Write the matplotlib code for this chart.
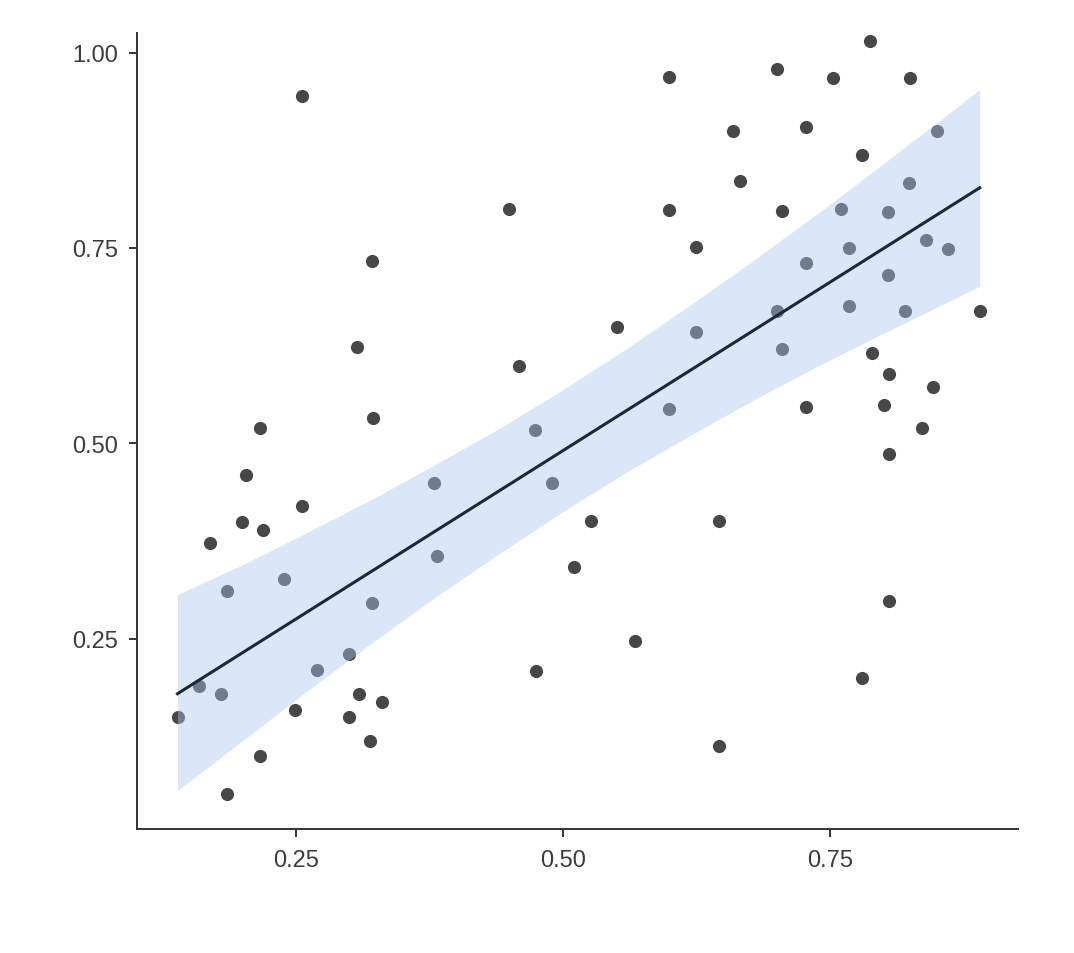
"""Scatter with linear fit and 95% confidence band (ggplot classic look)."""

import matplotlib
matplotlib.use("Agg")
import matplotlib.pyplot as plt

# values
x_vals = [
    0.139, 0.159, 0.169, 0.180, 0.185, 0.185, 0.199, 0.203, 0.216, 0.219,
    0.216, 0.239, 0.249, 0.256, 0.256, 0.270, 0.300, 0.300, 0.307, 0.309,
    0.319, 0.321, 0.321, 0.322, 0.330, 0.379, 0.382,
    0.449, 0.459, 0.474, 0.475, 0.490, 0.510, 0.526, 0.550, 0.567, 0.599,
    0.599, 0.599, 0.6245, 0.6245, 0.646, 0.646,
    0.659, 0.666, 0.700, 0.700, 0.705, 0.705, 0.727, 0.727, 0.727, 0.753,
    0.760, 0.768, 0.768, 0.780, 0.780, 0.787, 0.789, 0.800, 0.804, 0.804,
    0.805, 0.805, 0.805, 0.820, 0.824, 0.825, 0.836, 0.840, 0.846, 0.850,
    0.860, 0.890,
]
y_vals = [
    0.150, 0.190, 0.373, 0.180, 0.311, 0.052, 0.400, 0.460, 0.520, 0.389,
    0.100, 0.327, 0.159, 0.944, 0.420, 0.210, 0.231, 0.150, 0.623, 0.180,
    0.120, 0.733, 0.296, 0.533, 0.170, 0.450, 0.356,
    0.800, 0.599, 0.517, 0.209, 0.450, 0.342, 0.401, 0.649, 0.248, 0.969,
    0.799, 0.544, 0.751, 0.643, 0.401, 0.113,
    0.900, 0.836, 0.979, 0.669, 0.797, 0.621, 0.905, 0.731, 0.547, 0.968,
    0.800, 0.750, 0.676, 0.869, 0.200, 1.015, 0.616, 0.549, 0.796, 0.716,
    0.589, 0.487, 0.299, 0.669, 0.833, 0.968, 0.520, 0.760, 0.572, 0.900,
    0.749, 0.669,
]

# fitted line and its confidence band, as drawn in the reference
fit_x = [0.139, 0.890]
fit_y = [0.180, 0.827]
band_x = [0.139, 0.20, 0.26, 0.32, 0.38, 0.44, 0.50,
          0.56, 0.62, 0.68, 0.74, 0.80, 0.86, 0.890]
band_lo = [0.056, 0.120, 0.183, 0.244, 0.303, 0.359, 0.413,
           0.464, 0.511, 0.557, 0.600, 0.641, 0.681, 0.701]
band_hi = [0.307, 0.345, 0.386, 0.428, 0.473, 0.519, 0.569,
           0.622, 0.678, 0.736, 0.796, 0.858, 0.921, 0.953]

x_ticks = [0.25, 0.50, 0.75]
y_ticks = [0.25, 0.50, 0.75, 1.00]

plt.rcParams["font.family"] = ["Liberation Sans", "DejaVu Sans"]

fig = plt.figure(figsize=(10.74, 9.54), dpi=100)
ax = fig.add_axes([0.1276, 0.130, 0.8204, 0.8344])

ax.scatter(x_vals, y_vals, s=90, color="#474747", linewidths=0, zorder=2)
ax.fill_between(band_x, band_lo, band_hi,
                color="#abc6f0", alpha=0.42, linewidth=0, zorder=3)
ax.plot(fit_x, fit_y, color="#1b2838", linewidth=2.2, zorder=4)

ax.set_xlim(0.1011, 0.926)
ax.set_ylim(0.007, 1.025)
ax.set_xticks(x_ticks)
ax.set_yticks(y_ticks)
ax.set_xticklabels([f"{v:.2f}" for v in x_ticks])
ax.set_yticklabels([f"{v:.2f}" for v in y_ticks])

for side in ("top", "right"):
    ax.spines[side].set_visible(False)
for side in ("left", "bottom"):
    ax.spines[side].set_color("#333333")
    ax.spines[side].set_linewidth(1.4)
ax.tick_params(axis="both", length=5.5, width=1.4, color="#333333",
               labelsize=17, labelcolor="#3c3c3c")
ax.tick_params(axis="x", pad=9)
ax.tick_params(axis="y", pad=8)

fig.savefig("out.png", dpi=100, facecolor="white")
